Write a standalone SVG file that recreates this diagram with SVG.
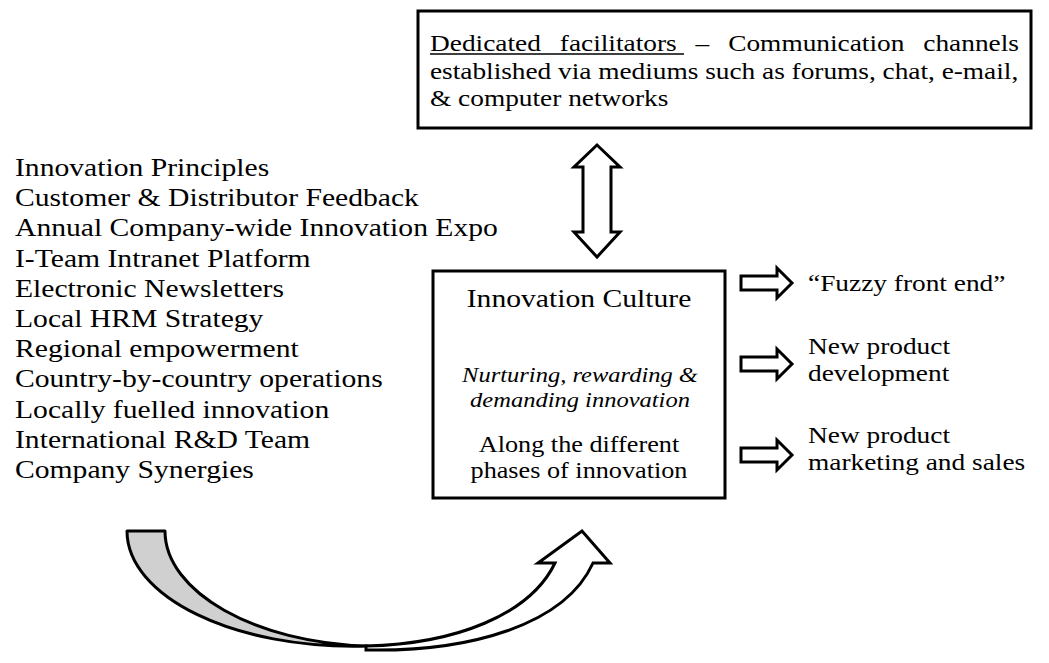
<svg xmlns="http://www.w3.org/2000/svg" width="1049" height="663" viewBox="0 0 1049 663">
  <style>
    text { font-family: "Liberation Serif", "Times New Roman", serif; fill: #000; }
    .top { font-size: 24px; }
    .list { font-size: 26px; }
    .head { font-size: 26px; text-anchor: middle; }
    .ital { font-size: 21.5px; font-style: italic; text-anchor: middle; }
    .mid { font-size: 23px; text-anchor: middle; }
    .out { font-size: 24px; }
    .box { fill: #fff; stroke: #000; stroke-width: 3; }
    .blk { fill: #fff; stroke: #000; stroke-width: 3; stroke-linejoin: miter; }
  </style>

  <!-- Communication channels box -->
  <g id="facilitators">
    <rect class="box" x="418" y="11" width="613" height="117"/>
    <text class="top" transform="matrix(1.14 0 0 1 430 51)">Dedicated</text>
    <text class="top" transform="matrix(1.14 0 0 1 559.8 51)">facilitators</text>
    <text class="top" transform="matrix(1.14 0 0 1 695.6 51)">–</text>
    <text class="top" transform="matrix(1.14 0 0 1 728.2 51)">Communication</text>
    <text class="top" transform="matrix(1.14 0 0 1 923.3 51)">channels</text>
    <line x1="430" y1="54" x2="684" y2="54" stroke="#000" stroke-width="1.3"/>
    <text class="top" transform="matrix(1.14 0 0 1 430 79)" textLength="516" lengthAdjust="spacing">established via mediums such as forums, chat, e-mail,</text>
    <text class="top" transform="matrix(1.14 0 0 1 430 106)">&amp; computer networks</text>
  </g>

  <!-- Drivers list -->
  <g id="drivers">
    <text class="list" transform="matrix(1.14 0 0 1 15 176)">Innovation Principles</text>
    <text class="list" transform="matrix(1.14 0 0 1 15 206)">Customer &amp; Distributor Feedback</text>
    <text class="list" transform="matrix(1.14 0 0 1 15 236)">Annual Company-wide Innovation Expo</text>
    <text class="list" transform="matrix(1.14 0 0 1 15 267)">I-Team Intranet Platform</text>
    <text class="list" transform="matrix(1.14 0 0 1 15 297)">Electronic Newsletters</text>
    <text class="list" transform="matrix(1.14 0 0 1 15 327)">Local HRM Strategy</text>
    <text class="list" transform="matrix(1.14 0 0 1 15 357)">Regional empowerment</text>
    <text class="list" transform="matrix(1.14 0 0 1 15 387)">Country-by-country operations</text>
    <text class="list" transform="matrix(1.14 0 0 1 15 418)">Locally fuelled innovation</text>
    <text class="list" transform="matrix(1.14 0 0 1 15 448)">International R&amp;D Team</text>
    <text class="list" transform="matrix(1.14 0 0 1 15 478)">Company Synergies</text>
  </g>

  <!-- Central culture box -->
  <g id="culture">
    <rect class="box" x="433" y="271" width="292" height="227"/>
    <text class="head" transform="matrix(1.14 0 0 1 579 307)">Innovation Culture</text>
    <text class="ital" transform="matrix(1.14 0 0 1 580 382)">Nurturing, rewarding &amp;</text>
    <text class="ital" transform="matrix(1.14 0 0 1 580 407)">demanding innovation</text>
    <text class="mid" transform="matrix(1.14 0 0 1 579 452)">Along the different</text>
    <text class="mid" transform="matrix(1.14 0 0 1 579 478)">phases of innovation</text>
  </g>

  <!-- Outcomes -->
  <g id="fuzzy">
    <text class="out" transform="matrix(1.14 0 0 1 808 291)">“Fuzzy front end”</text>
  </g>
  <g id="npd">
    <text class="out" transform="matrix(1.14 0 0 1 808 354)">New product</text>
    <text class="out" transform="matrix(1.14 0 0 1 808 381)">development</text>
  </g>
  <g id="marketing">
    <text class="out" transform="matrix(1.14 0 0 1 808 443)">New product</text>
    <text class="out" transform="matrix(1.14 0 0 1 808 470)">marketing and sales</text>
  </g>

  <!-- Connectors -->
  <g id="connectors">
    <polygon class="blk" points="597,145 620,167 611,167 611,232 620,232 597,257 574,232 583,232 583,167 574,167"/>
    <polygon class="blk" points="741,276 777,276 777,268 792,283 777,298 777,290 741,290"/>
    <polygon class="blk" points="741,357 777,357 777,349 792,364 777,379 777,371 741,371"/>
    <polygon class="blk" points="741,448 777,448 777,440 792,455 777,470 777,462 741,462"/>
    <!-- curved feedback arrow: shaded tail and open head -->
    <path d="M127,531 L165,531 C165,592 255,643 368,646 C233,650 127,596 127,531 Z" fill="#d0d0d0" stroke="#000" stroke-width="3" stroke-linejoin="round"/>
    <path d="M366,646 C455,644 530,615 555,563 L538,563 L582,531 L610,563 L593,563 C565,625 470,652 366,650 Z" fill="#fff" stroke="#000" stroke-width="3" stroke-linejoin="miter"/>
  </g>
</svg>
